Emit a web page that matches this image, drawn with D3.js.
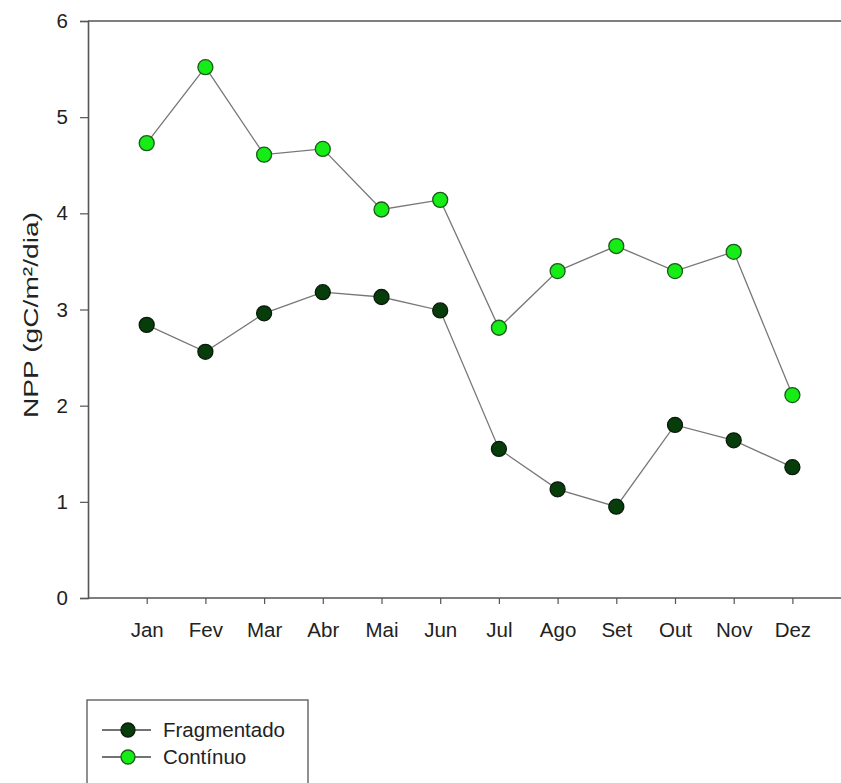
<!DOCTYPE html>
<html>
<head>
<meta charset="utf-8">
<script src="https://cdn.jsdelivr.net/npm/d3@7"></script>
<style>
  html, body { margin: 0; padding: 0; background: #fff; }
  svg { display: block; }
  text { font-family: "Liberation Sans", Arial, sans-serif; fill: #222; }
</style>
</head>
<body>
<svg id="chart" width="841" height="783"></svg>
<script>
// Monthly NPP for the two forest types
const months = ["Jan", "Fev", "Mar", "Abr", "Mai", "Jun", "Jul", "Ago", "Set", "Out", "Nov", "Dez"];
const fragmentado = [2.84, 2.56, 2.96, 3.18, 3.13, 2.99, 1.55, 1.13, 0.95, 1.80, 1.64, 1.36];
const continuo = [4.73, 5.52, 4.61, 4.67, 4.04, 4.14, 2.81, 3.40, 3.66, 3.40, 3.60, 2.11];
const yTicks = [0, 1, 2, 3, 4, 5, 6];
const seriesNames = ["Fragmentado", "Contínuo"];

const svg = d3.select("#chart");
const plotLeft = 88, plotTop = 21, plotBottom = 598, step = 58.7;
const fontSize = 20.5;

const x = d3.scaleLinear().domain([0, 13]).range([plotLeft, plotLeft + 13 * step]);
const y = d3.scaleLinear().domain([0, 6]).range([plotBottom, plotTop]);

const axisColor = "#555";

// Frame: top and bottom lines running to the right edge
svg.append("line").attr("x1", plotLeft).attr("x2", 841).attr("y1", plotTop).attr("y2", plotTop)
  .attr("stroke", axisColor).attr("stroke-width", 1.6);
svg.append("line").attr("x1", plotLeft).attr("x2", 841).attr("y1", plotBottom).attr("y2", plotBottom)
  .attr("stroke", axisColor).attr("stroke-width", 1.6);

// Y axis
const yAxis = svg.append("g").attr("transform", `translate(${plotLeft},0)`)
  .call(d3.axisLeft(y).tickValues(yTicks).tickFormat(d3.format("d")).tickSize(8).tickPadding(12));
yAxis.select(".domain").attr("stroke", axisColor).attr("stroke-width", 1.6);
yAxis.selectAll(".tick line").attr("stroke", axisColor).attr("stroke-width", 1.2);
yAxis.selectAll(".tick text").attr("font-size", fontSize).attr("fill", "#222")
  .attr("font-family", "Liberation Sans, Arial, sans-serif");

// X axis
const xAxis = svg.append("g").attr("transform", `translate(0,${plotBottom})`)
  .call(d3.axisBottom(x).tickValues(d3.range(1, 13)).tickFormat(i => months[i - 1]).tickSize(6).tickPadding(18));
xAxis.select(".domain").remove();
xAxis.selectAll(".tick line").attr("stroke", axisColor).attr("stroke-width", 1.2);
xAxis.selectAll(".tick text").attr("font-size", fontSize).attr("fill", "#222")
  .attr("font-family", "Liberation Sans, Arial, sans-serif");

// Y axis title (wide-set lettering)
svg.append("text")
  .attr("transform", `translate(38,315) rotate(-90)`)
  .attr("text-anchor", "middle")
  .attr("font-size", 21)
  .attr("textLength", 206)
  .attr("lengthAdjust", "spacingAndGlyphs")
  .text("NPP (gC/m²/dia)");

const styles = [
  { data: fragmentado, fill: "#073d0a", stroke: "#0a1a0a" },
  { data: continuo, fill: "#16ec16", stroke: "#1a5a1a" }
];

const line = d3.line().x((d, i) => x(i + 1)).y(d => y(d));

styles.forEach(s => {
  svg.append("path").datum(s.data).attr("d", line)
    .attr("fill", "none").attr("stroke", "#777").attr("stroke-width", 1.3);
  svg.append("g").selectAll("circle").data(s.data).join("circle")
    .attr("cx", (d, i) => x(i + 1)).attr("cy", d => y(d)).attr("r", 7.5)
    .attr("fill", s.fill).attr("stroke", s.stroke).attr("stroke-width", 1.3);
});

// Legend
const legend = svg.append("g");
legend.append("rect").attr("x", 87).attr("y", 700).attr("width", 221).attr("height", 100)
  .attr("fill", "none").attr("stroke", axisColor).attr("stroke-width", 1.3);
styles.forEach((s, i) => {
  const ly = 730 + i * 27;
  legend.append("line").attr("x1", 102).attr("x2", 151).attr("y1", ly).attr("y2", ly)
    .attr("stroke", "#444").attr("stroke-width", 1.3);
  legend.append("circle").attr("cx", 128).attr("cy", ly).attr("r", 7)
    .attr("fill", s.fill).attr("stroke", s.stroke).attr("stroke-width", 1.3);
  legend.append("text").attr("x", 163).attr("y", ly + 7).attr("font-size", fontSize)
    .text(seriesNames[i]);
});
</script>
</body>
</html>
